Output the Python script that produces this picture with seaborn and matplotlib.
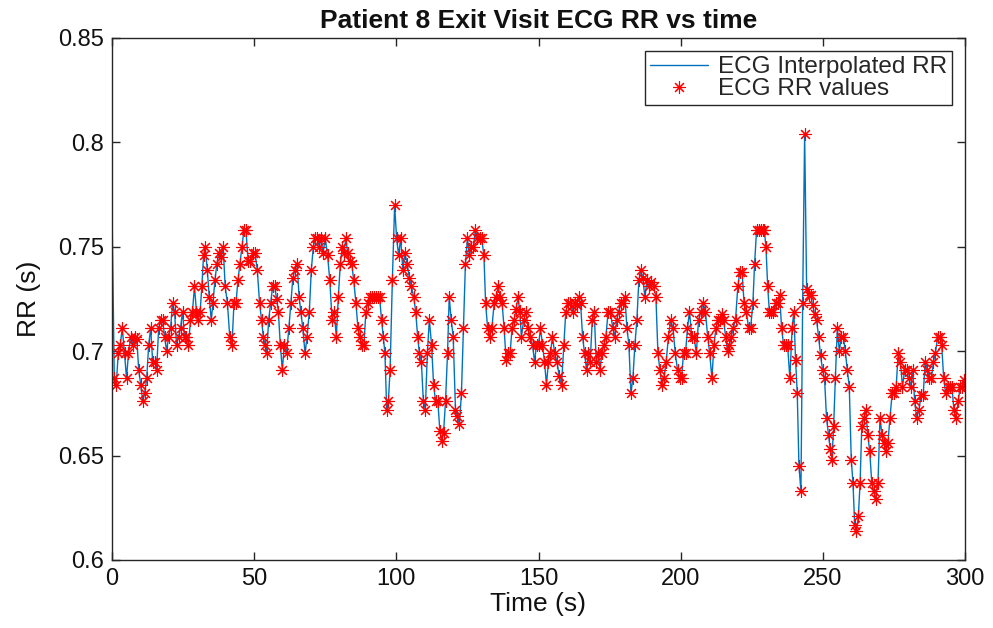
import matplotlib
matplotlib.use("Agg")
import matplotlib.pyplot as plt
import seaborn as sns
from matplotlib.ticker import FuncFormatter

# ---------------- data ----------------
rr_time = [
    0.8, 1.5, 2.2, 2.9, 3.6, 4.4, 5.1, 5.8, 6.6, 7.3, 8.0, 8.7, 9.4, 10.1, 10.8, 11.5, 12.2, 12.9, 13.6, 14.3,
    15.0, 15.7, 16.4, 17.1, 17.8, 18.5, 19.2, 19.9, 20.6, 21.3, 22.0, 22.7, 23.4, 24.1, 24.8, 25.5, 26.2, 26.9,
    27.6, 28.3, 29.0, 29.7,
    30.3, 31.0, 31.6, 32.2, 32.8, 33.5, 34.2, 34.9, 35.5, 36.2, 36.9, 37.6, 38.4, 39.1, 39.8, 40.6, 41.4, 42.2,
    42.9, 43.6, 44.3, 45.0, 45.7, 46.4, 47.1, 47.9, 48.7, 49.5, 50.3, 51.1, 51.9, 52.6, 53.2, 53.8, 54.4, 55.1,
    55.8, 56.5, 57.2, 57.9, 58.5, 59.2, 59.9,
    60.6, 61.4, 62.2, 62.9, 63.6, 64.3, 65.1, 65.8, 66.4, 67.1, 67.9, 68.6, 69.4, 70.1, 70.8, 71.5, 72.2, 72.9,
    73.5, 74.2, 75.0, 75.8, 76.6, 77.4, 78.1, 78.9, 79.6, 80.3, 81.0, 81.6, 82.2, 82.9, 83.6, 84.3, 85.0, 85.8,
    86.5, 87.2, 87.9, 88.6, 89.3, 89.9,
    90.6, 91.3, 92.0, 92.7, 93.4, 94.1, 94.8, 95.4, 96.0, 96.6, 97.2, 97.8, 98.6, 99.4, 100.1, 100.8, 101.5,
    102.3, 103.0, 103.8, 104.6, 105.3, 106.1, 106.8, 107.5, 108.1, 108.8, 109.5, 110.2, 110.9, 111.6, 112.4,
    113.1, 113.8, 114.6, 115.3, 116.0, 116.6, 117.3, 118.0, 118.6, 119.3, 120.0, 120.8,
    121.5, 122.2, 122.9, 123.6, 124.3, 125.0, 125.7, 126.4, 127.1, 127.8, 128.5, 129.3, 130.0, 130.8, 131.4,
    132.1, 132.8, 133.6, 134.4, 135.1, 135.8, 136.5, 137.2, 137.9, 138.6, 139.3, 140.0, 140.7, 141.4, 142.1,
    142.8, 143.4, 144.0, 144.8, 145.6, 146.3, 147.1, 147.9, 148.6, 149.3, 150.0, 150.7,
    151.4, 152.1, 152.8, 153.5, 154.2, 154.9, 155.7, 156.5, 157.3, 158.1, 158.9, 159.6, 160.4, 161.2, 162.0,
    162.7, 163.4, 164.1, 164.8, 165.5, 166.2, 166.9, 167.5, 168.2, 168.9, 169.6, 170.3, 171.0, 171.6, 172.3,
    173.0, 173.7, 174.5, 175.3, 176.1, 176.8, 177.5, 178.2, 178.9, 179.6, 180.4, 181.1, 181.8, 182.5,
    183.2, 183.9, 184.6, 185.3, 186.0, 186.7, 187.4, 188.2, 188.9, 189.7, 190.5, 191.3, 192.0, 192.7, 193.4,
    194.1, 194.9, 195.7, 196.5, 197.3, 198.1, 198.9, 199.6, 200.3, 201.0, 201.7, 202.4, 203.1, 203.9, 204.7,
    205.5, 206.3, 207.1, 207.9, 208.7, 209.5, 210.2, 211.0, 211.7, 212.4, 213.1,
    213.8, 214.4, 215.1, 215.8, 216.5, 217.1, 217.8, 218.5, 219.3, 220.1, 220.8, 221.6, 222.3, 223.1, 223.9,
    224.6, 225.4, 226.0, 226.7, 227.4, 228.1, 228.8, 229.4, 230.0, 230.6, 231.2, 231.9, 232.6, 233.4, 234.1,
    234.8, 235.5, 236.2, 236.9, 237.6, 238.4, 239.2, 239.8, 240.4, 241.0, 241.6, 242.3, 242.9, 243.6,
    244.3, 245.0, 245.7, 246.4, 247.1,
    247.8, 248.5, 249.2, 249.9, 250.6, 251.3, 252.0, 252.6, 253.2, 253.8, 254.4, 255.1, 255.8, 256.5, 257.2,
    257.9, 258.6, 259.3, 260.0, 260.6, 261.2, 261.8, 262.5, 263.1, 263.7, 264.4, 265.1, 265.8, 266.5, 267.2,
    267.9, 268.6, 269.4, 270.1, 270.8, 271.5, 272.2, 272.9, 273.6, 274.4,
    275.1, 275.8, 276.5, 277.3, 278.0, 278.8, 279.5, 280.2, 280.9, 281.6, 282.3, 283.0, 283.8, 284.6, 285.3,
    286.0, 286.8, 287.5, 288.2, 288.9, 289.6, 290.4, 291.1, 291.8, 292.5, 293.2, 294.0, 294.7, 295.4, 296.1,
    296.8, 297.6, 298.3, 299.0, 299.7,
]

rr_value = [
    0.687, 0.684, 0.699, 0.703, 0.711, 0.699, 0.687, 0.699, 0.707, 0.703, 0.707, 0.706, 0.691, 0.684, 0.676,
    0.680, 0.687, 0.703, 0.711, 0.695, 0.695, 0.691, 0.711, 0.715, 0.715, 0.707, 0.700, 0.707, 0.711, 0.723,
    0.719, 0.703, 0.707, 0.711, 0.719, 0.707, 0.707, 0.703, 0.715, 0.719, 0.731, 0.719,
    0.715, 0.719, 0.731, 0.746, 0.750, 0.739, 0.726, 0.715, 0.723, 0.734, 0.742, 0.747, 0.745, 0.750, 0.731,
    0.723, 0.707, 0.703, 0.723, 0.723, 0.734, 0.742, 0.750, 0.758, 0.758, 0.743, 0.743, 0.747, 0.747, 0.739,
    0.723, 0.715, 0.707, 0.703, 0.699, 0.715, 0.723, 0.731, 0.731, 0.725, 0.719, 0.703, 0.691,
    0.703, 0.699, 0.711, 0.723, 0.735, 0.739, 0.742, 0.726, 0.719, 0.711, 0.699, 0.707, 0.719, 0.739, 0.750,
    0.754, 0.754, 0.750, 0.754, 0.747, 0.754, 0.746, 0.734, 0.715, 0.719, 0.707, 0.726, 0.742, 0.750, 0.747,
    0.754, 0.747, 0.743, 0.742, 0.734, 0.723, 0.711, 0.707, 0.703, 0.703, 0.719, 0.723,
    0.726, 0.726, 0.726, 0.726, 0.726, 0.726, 0.715, 0.707, 0.699, 0.672, 0.676, 0.691, 0.734, 0.770, 0.754,
    0.746, 0.754, 0.739, 0.747, 0.742, 0.735, 0.731, 0.726, 0.719, 0.707, 0.699, 0.695, 0.676, 0.672, 0.699,
    0.715, 0.703, 0.684, 0.676, 0.676, 0.662, 0.657, 0.661, 0.676, 0.699, 0.726, 0.715, 0.707, 0.672,
    0.669, 0.665, 0.680, 0.711, 0.742, 0.754, 0.746, 0.750, 0.750, 0.758, 0.754, 0.754, 0.754, 0.746, 0.723,
    0.711, 0.707, 0.711, 0.723, 0.726, 0.731, 0.726, 0.723, 0.711, 0.696, 0.699, 0.699, 0.711, 0.715, 0.720,
    0.726, 0.719, 0.707, 0.715, 0.719, 0.711, 0.707, 0.703, 0.695, 0.703, 0.703, 0.711,
    0.703, 0.695, 0.684, 0.695, 0.699, 0.707, 0.699, 0.695, 0.688, 0.684, 0.703, 0.719, 0.723, 0.723, 0.719,
    0.723, 0.722, 0.726, 0.723, 0.707, 0.699, 0.691, 0.699, 0.695, 0.715, 0.719, 0.695, 0.699, 0.691, 0.699,
    0.703, 0.707, 0.719, 0.719, 0.711, 0.707, 0.715, 0.719, 0.723, 0.723, 0.726, 0.711, 0.703, 0.680,
    0.687, 0.703, 0.715, 0.734, 0.739, 0.735, 0.726, 0.734, 0.731, 0.733, 0.731, 0.726, 0.699, 0.691, 0.684,
    0.687, 0.695, 0.707, 0.715, 0.711, 0.699, 0.691, 0.687, 0.687, 0.699, 0.699, 0.711, 0.719, 0.707, 0.707,
    0.699, 0.715, 0.719, 0.723, 0.719, 0.707, 0.699, 0.687, 0.703, 0.711, 0.715,
    0.715, 0.718, 0.715, 0.707, 0.700, 0.703, 0.707, 0.711, 0.715, 0.731, 0.738, 0.738, 0.723, 0.719, 0.711,
    0.711, 0.723, 0.742, 0.758, 0.758, 0.758, 0.758, 0.758, 0.750, 0.731, 0.719, 0.719, 0.719, 0.723, 0.723,
    0.727, 0.711, 0.703, 0.703, 0.703, 0.687, 0.711, 0.719, 0.696, 0.680, 0.645, 0.633, 0.723, 0.804,
    0.730, 0.727, 0.727, 0.722, 0.718,
    0.715, 0.707, 0.698, 0.691, 0.687, 0.668, 0.660, 0.653, 0.648, 0.664, 0.687, 0.711, 0.700, 0.707, 0.707,
    0.700, 0.691, 0.683, 0.648, 0.637, 0.617, 0.614, 0.621, 0.637, 0.664, 0.668, 0.672, 0.660, 0.652, 0.637,
    0.633, 0.629, 0.637, 0.668, 0.660, 0.656, 0.652, 0.656, 0.668, 0.680,
    0.680, 0.683, 0.699, 0.695, 0.683, 0.691, 0.691, 0.687, 0.683, 0.691, 0.676, 0.668, 0.672, 0.679, 0.679,
    0.695, 0.691, 0.687, 0.687, 0.695, 0.699, 0.707, 0.707, 0.703, 0.687, 0.680, 0.683, 0.683, 0.683, 0.672,
    0.668, 0.676, 0.683, 0.683, 0.686,
]

# interpolated curve starts at t = 0 with this value
interp_start_time = [0.0]
interp_start_value = [0.768]

x_ticks = [0, 50, 100, 150, 200, 250, 300]
y_ticks = [0.6, 0.65, 0.7, 0.75, 0.8, 0.85]

# ---------------- figure ----------------
sns.set_theme(style="white")
plt.rcParams["font.family"] = ["Liberation Sans", "DejaVu Sans"]

fig = plt.figure(figsize=(9.93, 6.28), dpi=100)
ax = fig.add_axes([112 / 993, 1 - 560 / 628, (965 - 112) / 993, (560 - 38) / 628])

line_t = interp_start_time + rr_time
line_v = interp_start_value + rr_value

sns.lineplot(x=line_t, y=line_v, ax=ax, color="#0072BD", linewidth=1.0,
             label="ECG Interpolated RR", sort=False, estimator=None)
sns.lineplot(x=rr_time, y=rr_value, ax=ax, linestyle="none", marker=(8, 2, 0),
             markersize=9, markeredgewidth=0.8, color="red", markeredgecolor="red",
             label="ECG RR values", sort=False, estimator=None)

ax.set_xlim(0, 300)
ax.set_ylim(0.6, 0.85)
ax.set_xticks(x_ticks)
ax.set_yticks(y_ticks)
ax.yaxis.set_major_formatter(FuncFormatter(lambda v, p: f"{v:g}"))

for s in ax.spines.values():
    s.set_visible(True)
    s.set_color("#262626")
    s.set_linewidth(1.0)

ax.tick_params(axis="both", which="both", direction="in", length=6, width=1,
               colors="#262626", labelcolor="#111111", labelsize=17,
               top=True, right=True, bottom=True, left=True, pad=6)

ax.set_xlabel("Time (s)", fontsize=19, color="#111111", labelpad=1)
ax.set_ylabel("RR (s)", fontsize=19, color="#111111", labelpad=12)
ax.set_title("Patient 8 Exit Visit ECG RR vs time", fontsize=19, fontweight="bold",
             color="#111111", pad=7)

leg = ax.legend(loc="upper right", fontsize=17.5, frameon=True, fancybox=False,
                edgecolor="#262626", framealpha=1, handlelength=2.4,
                borderpad=0.2, labelspacing=0.0, handletextpad=0.4,
                borderaxespad=0.55)
leg.get_frame().set_linewidth(1.0)

fig.savefig("out.png", dpi=100)
